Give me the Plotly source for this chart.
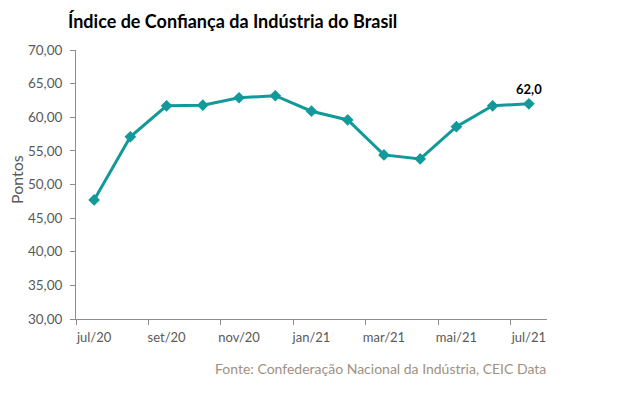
import plotly.graph_objects as go

months = ["jul/20", "ago/20", "set/20", "out/20", "nov/20", "dez/20", "jan/21",
          "fev/21", "mar/21", "abr/21", "mai/21", "jun/21", "jul/21"]
values = [47.7, 57.1, 61.7, 61.8, 62.9, 63.2, 60.9, 59.6, 54.4, 53.8, 58.6, 61.7, 62.0]
tick_labels = ["jul/20", "set/20", "nov/20", "jan/21", "mar/21", "mai/21", "jul/21"]
y_ticks = [30, 35, 40, 45, 50, 55, 60, 65, 70]

x_idx = list(range(len(months)))
label_text = [""] * (len(values) - 1) + ["<b>62,0</b>"]

FONT = "Lato"
TEAL = "#12999A"
GRAY = "#595959"

# page body has an 8px margin; figure sized to fill the remaining window
W, H = 610, 391
L, T, R, B = 68, 42, 71, 80
plot_w = W - L - R
plot_h = H - T - B

fig = go.Figure()
fig.add_trace(go.Scatter(
    x=x_idx, y=values, mode="lines+markers+text",
    line=dict(color=TEAL, width=3),
    marker=dict(symbol="diamond", size=9, color=TEAL),
    text=label_text, textposition="top center",
    textfont=dict(family=FONT, size=13, color="#000000"),
    hoverinfo="skip", cliponaxis=False,
))
fig.add_trace(go.Scatter(x=[-0.5, len(months) - 0.5], y=[30, 30], mode="markers",
                         marker=dict(opacity=0), xaxis="x2", hoverinfo="skip", showlegend=False))

fig.update_layout(
    width=W, height=H,
    margin=dict(l=L, r=R, t=T, b=B, autoexpand=False),
    plot_bgcolor="white", paper_bgcolor="white",
    showlegend=False,
    separators=",.",
    font=dict(family=FONT, color=GRAY),
    title=dict(text="<b>Índice de Confiança da Indústria do Brasil</b>",
               x=60 / W, xanchor="left", y=1 - 14 / H, yanchor="middle",
               font=dict(family=FONT, size=18, color="#000000")),
    xaxis=dict(range=[-0.5, len(months) - 0.5], automargin=False,
               tickvals=[x_idx[months.index(t)] for t in tick_labels],
               ticktext=tick_labels, ticks="", showgrid=False,
               showline=True, linecolor="#8C8C8C", linewidth=1, ticklabelstandoff=6,
               tickfont=dict(family=FONT, size=13, color=GRAY), zeroline=False),
    xaxis2=dict(range=[-0.5, len(months) - 0.5], overlaying="x", side="bottom",
                automargin=False,
                tickvals=[i - 0.5 for i in range(0, len(months) + 1, 2)],
                showticklabels=False, ticks="outside", ticklen=5, tickcolor="#8C8C8C",
                showgrid=False, showline=False, zeroline=False),
    yaxis=dict(range=[30, 70], tickvals=y_ticks, tickformat=".2f", automargin=False,
               ticks="outside", ticklen=5, tickcolor="#8C8C8C", ticklabelstandoff=5,
               showline=True, linecolor="#8C8C8C", linewidth=1, showgrid=False,
               zeroline=False, tickfont=dict(family=FONT, size=13.5, color=GRAY)),
    annotations=[
        dict(text="Pontos", textangle=-90, xref="paper", yref="paper",
             x=(8 - L) / plot_w, y=(319 - 180) / plot_h, xanchor="center", yanchor="middle",
             showarrow=False, font=dict(family=FONT, size=16, color=GRAY)),
        dict(text="Fonte: Confederação Nacional da Indústria, CEIC Data",
             xref="paper", yref="paper", x=(548 - 76) / plot_w,
             y=-(368 - 319) / plot_h, xanchor="right", yanchor="middle",
             showarrow=False,
             font=dict(family=FONT, size=14, color="#A09080")),
    ],
)

fig.write_html("out.html")
